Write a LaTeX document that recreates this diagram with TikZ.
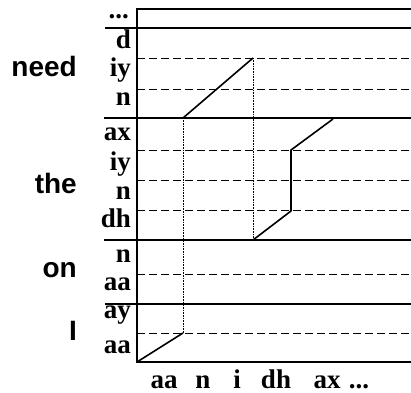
\documentclass[tikz,border=0pt]{standalone}
\usepackage{fontspec}
\setmainfont{Liberation Serif}
\setsansfont{Liberation Sans}

\begin{document}
\begin{tikzpicture}[x=1pt,y=-1pt,
  phone/.style={anchor=base east,inner sep=0pt,font=\fontsize{27}{30}\selectfont\bfseries},
  frame/.style={anchor=base,inner sep=0pt,font=\fontsize{27}{30}\selectfont\bfseries},
  word/.style={anchor=base east,inner sep=0pt,font=\fontsize{28}{32}\selectfont\sffamily\bfseries},
  sep/.style={line width=1.2pt},
  state/.style={line width=0.8pt,dash pattern=on 8pt off 4pt},
  warp/.style={line width=1.6pt,line join=round},
  jump/.style={line width=0.6pt,densely dotted}]

\useasboundingbox (0,0) rectangle (411,392);

% Grid
\draw[sep] (411,9) -- (137,9) -- (137,362) -- (411,362);
\draw[sep] (105,28) -- (411,28);
\draw[sep] (104,118) -- (411,118);
\draw[sep] (104,240) -- (411,240);
\draw[sep] (105,304) -- (411,304);

% Phone boundaries
\draw[state] (137,58) -- (411,58);
\draw[state] (137,89) -- (411,89);
\draw[state] (137,150) -- (411,150);
\draw[state] (137,180) -- (411,180);
\draw[state] (137,210) -- (411,210);
\draw[state] (137,274) -- (411,274);
\draw[state] (137,333) -- (411,333);

% Phones
\node[phone] (dots) at (129,18) {...};
\node[phone] (d)   at (131,48)  {d};
\node[phone] (iy1) at (131,76)  {iy};
\node[phone] (n1)  at (131,105) {n};
\node[phone] (ax)  at (131,140) {ax};
\node[phone] (iy2) at (131,170) {iy};
\node[phone] (n2)  at (131,199) {n};
\node[phone] (dh)  at (131,227) {dh};
\node[phone] (n3)  at (131,262) {n};
\node[phone] (aa1) at (131,290) {aa};
\node[phone] (ay)  at (131,318) {ay};
\node[phone] (aa2) at (131,353) {aa};

% Words
\node[word] (need) at (77,76)  {need};
\node[word] (the)  at (77,193) {the};
\node[word] (on)   at (77,277) {on};
\node[word] (wi)   at (77,340) {I};

% Input frames
\node[frame] (f1) at (164,388) {aa};
\node[frame] (f2) at (203,388) {n};
\node[frame] (f3) at (237,388) {i};
\node[frame] (f4) at (276,388) {dh};
\node[frame] (f5) at (327,388) {ax};
\node[frame] (f6) at (359,388) {...};

% Alignment path
\coordinate (p0) at (137,362);
\coordinate (p1) at (183,333);
\coordinate (p2) at (183,118);
\coordinate (p3) at (253,58);
\coordinate (p4) at (253,240);
\coordinate (p5) at (291,211);
\coordinate (p6) at (291,150);
\coordinate (p7) at (333,119);

\draw[warp] (p0) -- (p1);
\draw[jump] (p1) -- (p2);
\draw[warp] (p2) -- (p3);
\draw[jump] (p3) -- (p4);
\draw[warp] (p4) -- (p5) -- (p6) -- (p7);

\end{tikzpicture}
\end{document}
